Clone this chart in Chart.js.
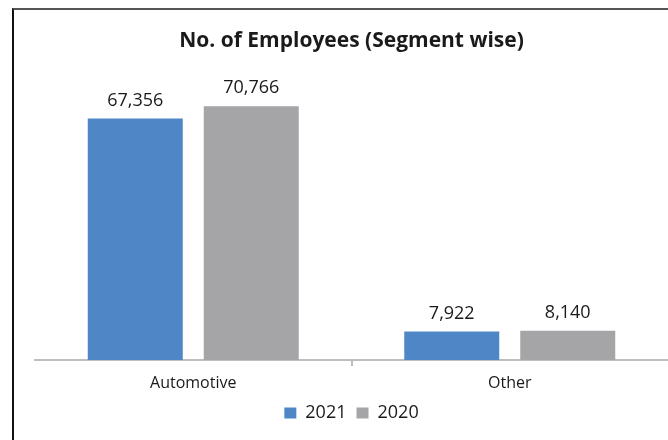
<!DOCTYPE html>
<html>
<head>
<meta charset="utf-8">
<script src="https://cdn.jsdelivr.net/npm/chart.js@4/dist/chart.umd.min.js"></script>
<style>
  html, body { margin: 0; padding: 0; background: #fff; }
  #wrap { position: relative; width: 668px; height: 440px; overflow: hidden; }
  #frame { position: absolute; left: 12px; top: 8px; width: 700px; height: 500px;
           border-left: 2px solid #111; border-top: 2px solid #555; }
  #c { position: absolute; left: 0; top: 0; }
</style>
</head>
<body>
<div id="wrap">
  <div id="frame"></div>
  <canvas id="c" width="668" height="440"></canvas>
</div>
<script>
const chartTitle = 'No. of Employees (Segment wise)';
const categories = ['Automotive', 'Other'];
const seriesNames = ['2021', '2020'];
const values2021 = [67356, 7922];
const values2020 = [70766, 8140];
const seriesColors = ['#4F86C6', '#A5A5A8'];

const FONT = "'Open Sans', 'Liberation Sans', sans-serif";
const TEXT = '#1a1a1a';

const valueLabels = {
  id: 'valueLabels',
  afterDatasetsDraw(chart) {
    const ctx = chart.ctx;
    ctx.save();
    ctx.font = '18px ' + FONT;
    ctx.fillStyle = TEXT;
    ctx.textAlign = 'center';
    ctx.textBaseline = 'alphabetic';
    chart.data.datasets.forEach((ds, i) => {
      const meta = chart.getDatasetMeta(i);
      meta.data.forEach((bar, j) => {
        ctx.fillText(ds.data[j].toLocaleString('en-US'), bar.x, bar.y - 13);
      });
    });
    ctx.restore();
  }
};

new Chart(document.getElementById('c'), {
  type: 'bar',
  data: {
    labels: categories,
    datasets: [
      { label: seriesNames[0], data: values2021, backgroundColor: seriesColors[0] },
      { label: seriesNames[1], data: values2020, backgroundColor: seriesColors[1] }
    ]
  },
  options: {
    responsive: false,
    animation: false,
    categoryPercentage: 0.733,
    barPercentage: 0.819,
    layout: { padding: { left: 35, right: 0, top: 0, bottom: 8 } },
    plugins: {
      title: {
        display: true,
        text: chartTitle,
        color: TEXT,
        font: { family: FONT, size: 21, weight: 'bold' },
        padding: { top: 28, bottom: 20 }
      },
      legend: {
        position: 'bottom',
        labels: {
          color: TEXT,
          font: { family: FONT, size: 18 },
          boxWidth: 12,
          boxHeight: 11,
          padding: 10
        }
      },
      tooltip: { enabled: false }
    },
    scales: {
      x: {
        afterFit: (scale) => { scale.height -= 6; },
        border: { display: true, color: '#BDBDBD', width: 2 },
        grid: {
          drawOnChartArea: false,
          drawTicks: true,
          tickLength: 6,
          lineWidth: 2,
          color: (c) => c.index === 1 ? '#BDBDBD' : 'rgba(0,0,0,0)'
        },
        ticks: { color: TEXT, font: { family: FONT, size: 16, lineHeight: 1 }, padding: 9 }
      },
      y: {
        display: false,
        min: 0,
        max: 80000
      }
    }
  },
  plugins: [valueLabels]
});
</script>
</body>
</html>
